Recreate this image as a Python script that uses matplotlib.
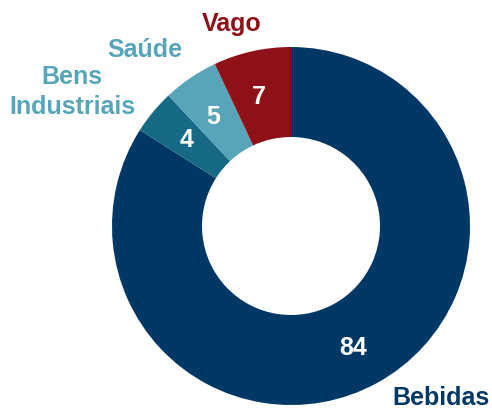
import matplotlib.pyplot as plt

# slice data (clockwise from 12 o'clock)
sectors = ['Bebidas', 'Bens\nIndustriais', 'Saúde', 'Vago']
values = [84, 4, 5, 7]
colors = ['#003865', '#176a85', '#58a5b9', '#8f1118']
label_colors = ['#003865', '#58a5b9', '#58a5b9', '#8f1118']

W, H = 492, 409
fig = plt.figure(figsize=(W / 100, H / 100), dpi=100)
ax = fig.add_axes([0, 0, 1, 1])

cx, cy = 291, H - 226
r_out, width = 179, 90

ax.pie(values, colors=colors, startangle=90, counterclock=False,
       center=(cx, cy), radius=r_out, frame=True,
       wedgeprops=dict(width=width, linewidth=0))
ax.set_xlim(0, W)
ax.set_ylim(0, H)
ax.set_aspect('equal')
ax.axis('off')

font = dict(family=['Liberation Sans', 'DejaVu Sans'], fontweight='bold', fontsize=18)

# value labels inside the ring (pixel coords from top-left)
value_pos = [(353, 348), (187, 140), (213, 117), (259, 97)]
for v, (x, y) in zip(values, value_pos):
    ax.text(x, H - y, str(v), color='white', ha='center', va='center', **font)

# sector names outside
name_pos = [(441, 398), (72, 92), (145, 50), (232, 24)]
for name, c, (x, y) in zip(sectors, label_colors, name_pos):
    ax.text(x, H - y, name, color=c, ha='center', va='center',
            multialignment='center', linespacing=1.35, **font)

fig.savefig('out.png', dpi=100)
